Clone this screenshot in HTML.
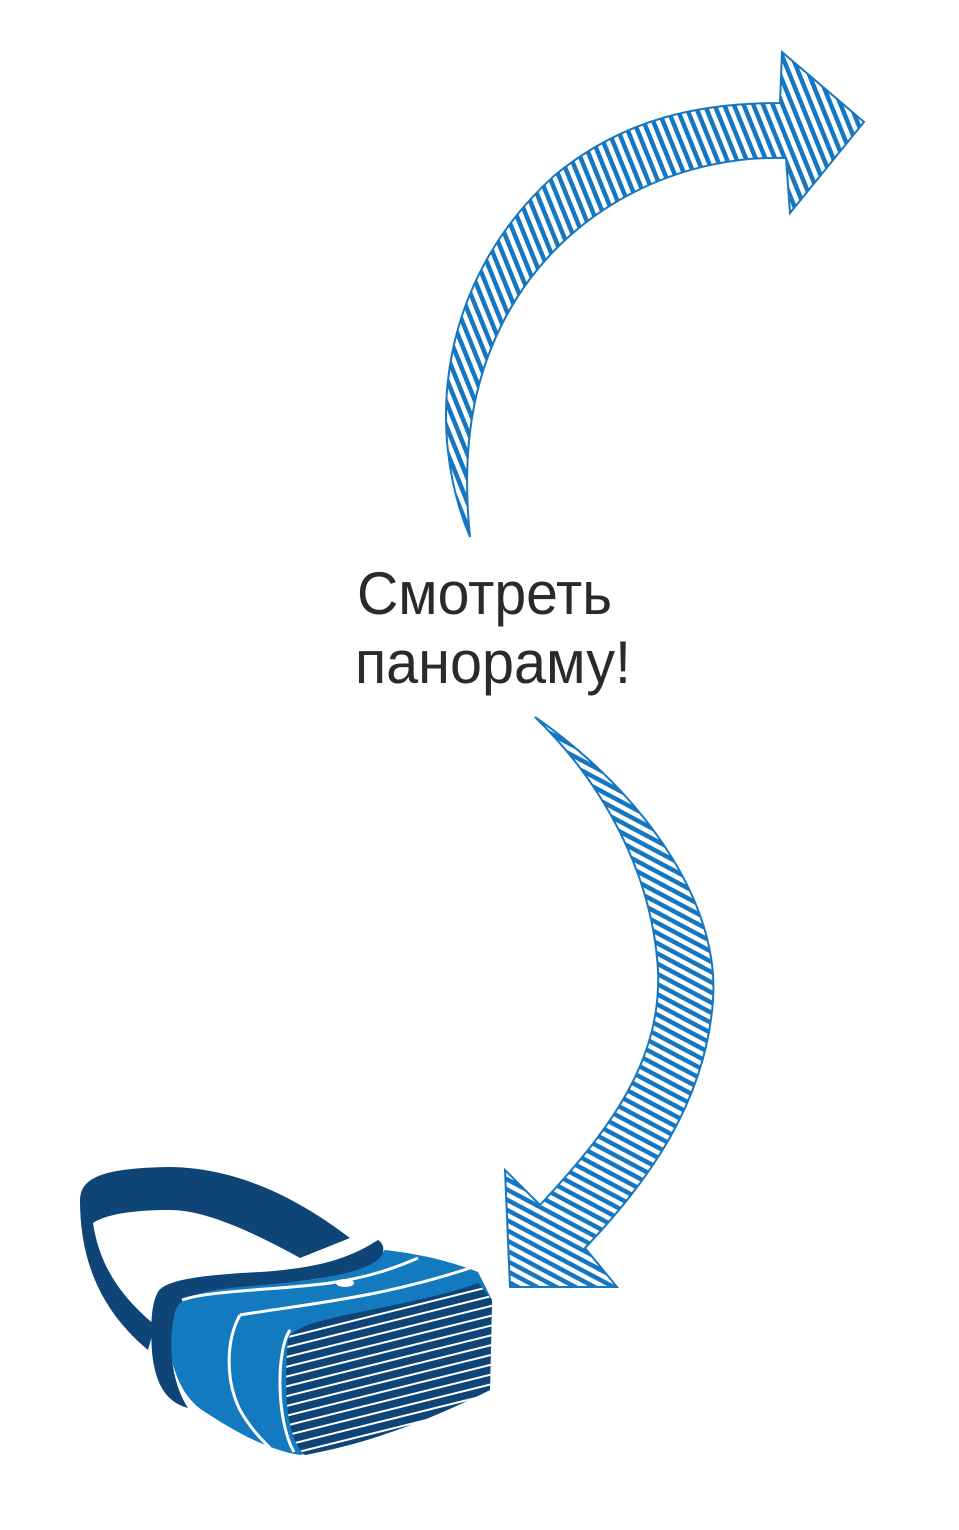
<!DOCTYPE html>
<html><head><meta charset="utf-8"><style>
html,body{margin:0;padding:0;background:#fff;width:959px;height:1530px;overflow:hidden}
svg{display:block}
</style></head><body>
<svg width="959" height="1530" viewBox="0 0 959 1530">
<defs>
<pattern id="stripesTop" patternUnits="userSpaceOnUse" width="9" height="9" patternTransform="rotate(-22)">
<rect width="9" height="9" fill="#fff"/><rect width="4.5" height="9" fill="#1677c0"/>
</pattern>
<pattern id="stripesBot" patternUnits="userSpaceOnUse" width="9" height="9" patternTransform="rotate(28)">
<rect width="9" height="9" fill="#fff"/><rect width="9" height="4.5" fill="#1677c0"/>
</pattern>
<pattern id="faceLines" patternUnits="userSpaceOnUse" width="10" height="9.5" patternTransform="rotate(-14)">
<rect width="10" height="9.5" fill="#0f4477"/><rect y="7.5" width="10" height="2" fill="#fff"/>
</pattern>
<clipPath id="faceClip"><path d="M288,1340 C292,1325 330,1318 380,1308 C430,1298 460,1290 478,1283 L492,1300 L490,1390 C420,1425 360,1445 305,1455 C288,1440 283,1400 288,1340 Z"/></clipPath>
</defs>

<path d="M470,537 C425,430 438,280 555,175 C625,118 700,103 780,103 L782,52 L864,122 L790,213 L786,158 C690,155 585,198 522,290 C475,360 460,440 470,537 Z" fill="url(#stripesTop)" stroke="#1677c0" stroke-width="2"/>

<text x="357" y="614" font-family="Liberation Sans, sans-serif" font-size="60" fill="#2a2a2a" textLength="255" lengthAdjust="spacingAndGlyphs">Смотреть</text>
<text x="355" y="683" font-family="Liberation Sans, sans-serif" font-size="60" fill="#2a2a2a" textLength="276" lengthAdjust="spacingAndGlyphs">панораму!</text>

<path d="M535,717 C640,790 720,900 713,1000 C706,1100 650,1180 585,1248 L617,1287 L510,1287 L505,1170 L540,1205 C610,1130 662,1060 658,970 C652,870 600,780 535,717 Z" fill="url(#stripesBot)" stroke="#1677c0" stroke-width="2"/>

<g>
<path d="M80,1200 C80,1175 110,1168 170,1167 C240,1168 300,1200 350,1238 L300,1258 C240,1225 200,1210 170,1210 C130,1210 105,1215 93,1223 C100,1270 125,1300 155,1325 L148,1350 C100,1310 80,1260 80,1200 Z" fill="#0f4477"/>
<path d="M168,1310 C178,1292 220,1288 290,1282 C340,1278 365,1268 385,1250 C430,1255 460,1265 478,1272 L492,1300 L490,1390 C430,1420 360,1445 300,1455 C270,1450 240,1435 205,1412 C182,1398 172,1370 168,1340 Z" fill="#137abf"/>
<path d="M158,1292 C165,1280 200,1275 260,1272 C320,1268 350,1258 378,1240 C386,1245 385,1255 375,1262 C350,1277 300,1282 240,1287 C200,1291 180,1296 175,1312 C168,1340 170,1380 188,1408 C165,1402 155,1382 152,1352 C150,1322 152,1302 158,1292 Z" fill="#0f4477"/>
<path d="M182,1300 C210,1290 280,1290 330,1283 C370,1277 395,1268 418,1258" fill="none" stroke="#fff" stroke-width="3"/>
<path d="M240,1315 C226,1340 225,1380 240,1410 C250,1428 262,1440 270,1448" fill="none" stroke="#fff" stroke-width="3"/>
<path d="M240,1315 C300,1305 380,1298 470,1268" fill="none" stroke="#fff" stroke-width="3"/>
<path d="M290,1330 C276,1350 276,1420 294,1452" fill="none" stroke="#fff" stroke-width="3"/>
<ellipse cx="345" cy="1283" rx="9" ry="4" fill="#fff"/>
<rect x="270" y="1270" width="230" height="200" fill="url(#faceLines)" clip-path="url(#faceClip)"/>
</g>
</svg>
</body></html>
